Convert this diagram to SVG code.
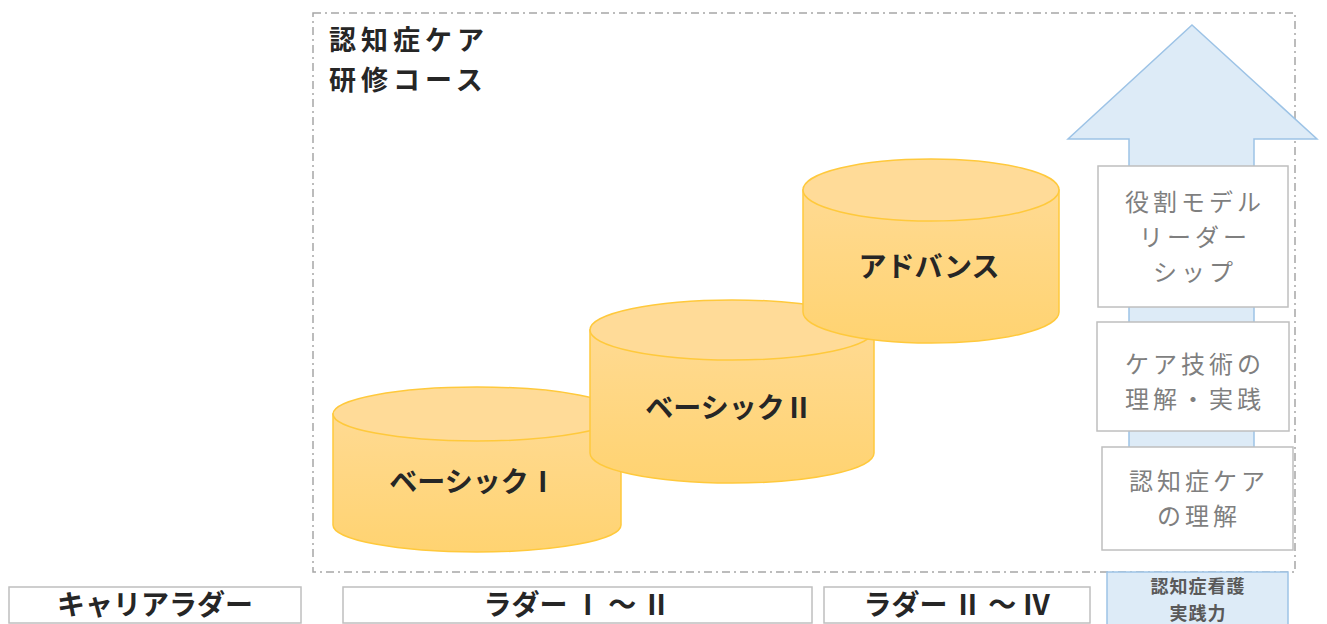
<svg xmlns="http://www.w3.org/2000/svg" width="1327" height="624" viewBox="0 0 1327 624">
<defs>
<linearGradient id="body" x1="0" y1="0" x2="0" y2="1">
<stop offset="0" stop-color="#FFDA92"/>
<stop offset="1" stop-color="#FFD371"/>
</linearGradient>
<style>
.cyl-body{fill:url(#body);stroke:#FFC93C;stroke-width:1.5}
.cyl-top{fill:#FFDB98;stroke:#FFC93C;stroke-width:1.5}
.cyl-label{font-family:"Noto Sans CJK JP","Noto Sans",sans-serif;font-size:28px;font-weight:bold;fill:#262626;text-anchor:middle}
.title{font-family:"Noto Sans CJK JP","Noto Sans",sans-serif;font-size:27px;letter-spacing:5px;font-weight:bold;fill:#262626}
.box{fill:#FFFFFF;stroke:#BFBFBF;stroke-width:1.5}
.box-label{font-family:"Noto Sans CJK JP","Noto Sans",sans-serif;font-size:24px;letter-spacing:4px;fill:#7F7F7F;text-anchor:middle}
.ladder-label{font-family:"Noto Sans CJK JP","Noto Sans",sans-serif;font-size:28px;font-weight:bold;fill:#262626;text-anchor:middle}
.blue{fill:#DDEBF7;stroke:#9DC3E6;stroke-width:1.5}
.small{font-family:"Noto Sans CJK JP","Noto Sans",sans-serif;font-size:18px;letter-spacing:1px;font-weight:bold;fill:#595959;text-anchor:middle}
</style>
</defs>
<rect width="1327" height="624" fill="#FFFFFF"/>
<g id="course-frame">
<rect x="313" y="13" width="982" height="559" fill="none" stroke="#A6A6A6" stroke-width="1.5" stroke-dasharray="8 4 2 4"/>
<text class="title" x="329" y="50">認知症ケア<tspan x="329" y="90">研修コース</tspan></text>
</g>
<g id="basic1">
<path class="cyl-body" d="M333,414 L333,525 A144,27 0 0 0 621,525 L621,414 Z"/>
<ellipse class="cyl-top" cx="477" cy="414" rx="144" ry="27"/>
<text class="cyl-label" x="473" y="492">ベーシックⅠ</text>
</g>
<g id="basic2">
<path class="cyl-body" d="M590,330 L590,453 A142,30 0 0 0 874,453 L874,330 Z"/>
<ellipse class="cyl-top" cx="732" cy="330" rx="142" ry="30"/>
<text class="cyl-label" x="729" y="418">ベーシックⅡ</text>
</g>
<g id="advance">
<path class="cyl-body" d="M803,190 L803,312 A128,31 0 0 0 1059,312 L1059,190 Z"/>
<ellipse class="cyl-top" cx="931" cy="190" rx="128" ry="31"/>
<text class="cyl-label" x="929" y="277">アドバンス</text>
</g>
<g id="connectors">
<polygon id="growth-arrow" class="blue" points="1192,25 1317,139 1254,139 1254,548 1129,548 1129,139 1068,139"/>
</g>
<g id="role-model">
<rect class="box" x="1098" y="166" width="190" height="141"/>
<text class="box-label" x="1195" y="211">役割モデル<tspan x="1195" y="246">リーダー</tspan><tspan x="1195" y="281">シップ</tspan></text>
</g>
<g id="care-skill">
<rect class="box" x="1097" y="322" width="192" height="109"/>
<text class="box-label" x="1195" y="373">ケア技術の<tspan x="1195" y="408">理解・実践</tspan></text>
</g>
<g id="dementia-understanding">
<rect class="box" x="1102" y="447" width="191" height="103"/>
<text class="box-label" x="1199" y="490">認知症ケア<tspan x="1199" y="525">の理解</tspan></text>
</g>
<g id="career-ladder">
<rect class="box" x="9" y="587" width="292" height="36"/>
<text class="ladder-label" x="155" y="615">キャリアラダー</text>
</g>
<g id="ladder-1-2">
<rect class="box" x="343" y="587" width="469" height="36"/>
<text class="ladder-label" x="577" y="615">ラダー Ⅰ ～ Ⅱ</text>
</g>
<g id="ladder-2-4">
<rect class="box" x="824" y="587" width="266" height="36"/>
<text class="ladder-label" x="957" y="615">ラダー Ⅱ ～ Ⅳ</text>
</g>
<g id="nursing-competence">
<rect class="blue" x="1107" y="572" width="181" height="58"/>
<text class="small" x="1198" y="593">認知症看護<tspan x="1198" y="620">実践力</tspan></text>
</g>
</svg>
